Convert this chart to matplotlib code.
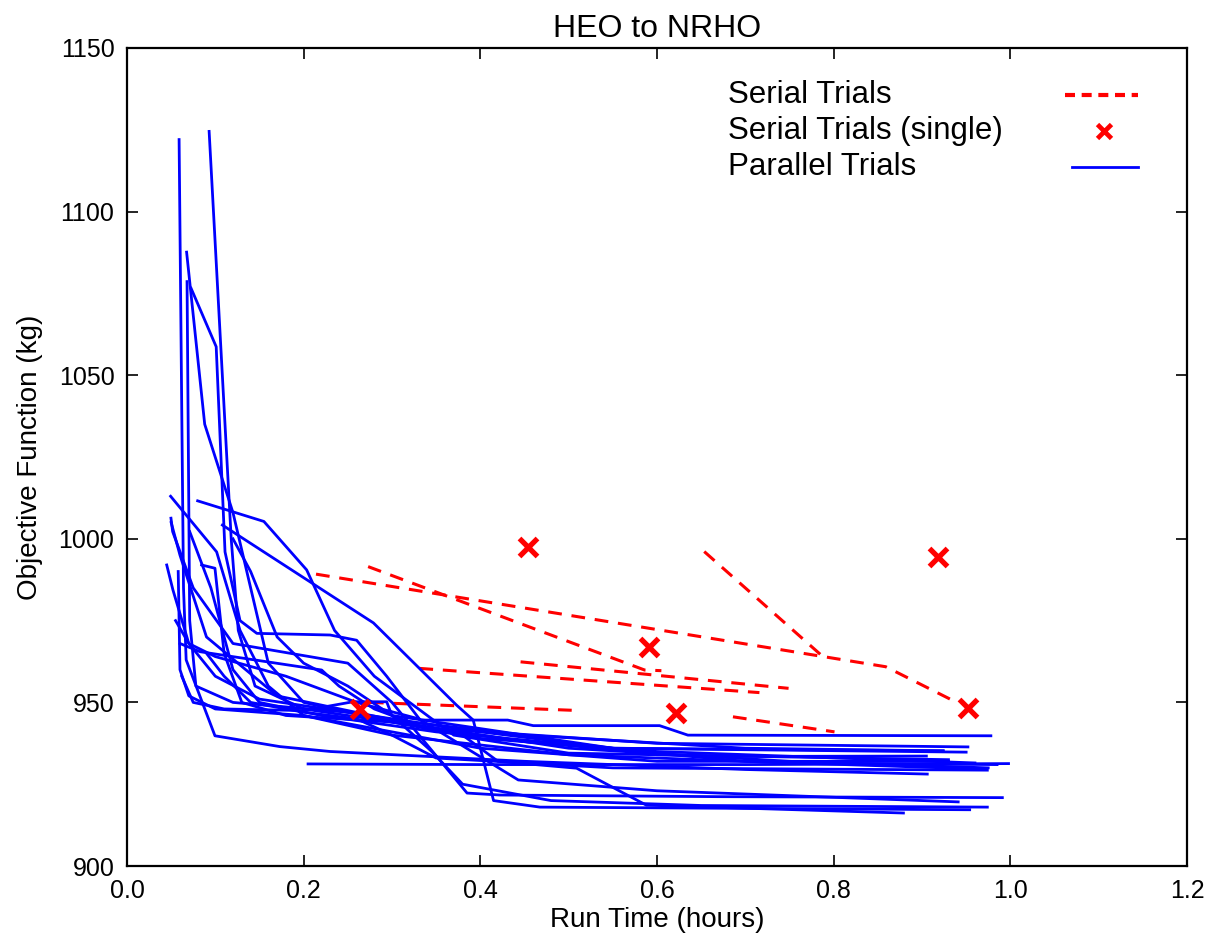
import matplotlib
matplotlib.use("Agg")
import matplotlib.pyplot as plt

plt.rcParams['font.family'] = ['Liberation Sans', 'DejaVu Sans']

title = "HEO to NRHO"
xlabel = "Run Time (hours)"
ylabel = "Objective Function (kg)"
xticks = [0.0, 0.2, 0.4, 0.6, 0.8, 1.0, 1.2]
yticks = [900, 950, 1000, 1050, 1100, 1150]
legend_labels = ["Serial Trials", "Serial Trials (single)", "Parallel Trials"]

# Parallel trials (blue solid)
par_x = [
    [0.059, 0.064, 0.067, 0.0996, 0.173, 0.23, 0.45, 0.7, 0.906],
    [0.093, 0.118, 0.126, 0.145, 0.2, 0.35, 0.6, 0.952],
    [0.0675, 0.088, 0.12, 0.16, 0.2, 0.3, 0.45, 0.7, 0.969],
    [0.068, 0.071, 0.078, 0.12, 0.25, 0.4, 0.55, 0.924],
    [0.0725, 0.101, 0.111, 0.128, 0.147, 0.23, 0.26, 0.294, 0.332, 0.431, 0.46, 0.603, 0.635, 0.978],
    [0.0494, 0.1015, 0.128, 0.16, 0.2, 0.3, 0.5, 0.75, 0.985],
    [0.080, 0.155, 0.2034, 0.235, 0.28, 0.33, 0.37, 0.5, 0.7, 0.905],
    [0.108, 0.279, 0.373, 0.392, 0.415, 0.4675, 0.954],
    [0.0498, 0.0517, 0.075, 0.12, 0.25, 0.3, 0.385, 0.422, 0.52, 0.669, 0.991],
    [0.045, 0.052, 0.07, 0.1, 0.18, 0.26, 0.33, 0.443, 0.6, 0.941],
    [0.058, 0.06, 0.07, 0.1, 0.2, 0.4, 0.6, 0.93],
    [0.071, 0.095, 0.12, 0.15, 0.22, 0.35, 0.55, 0.95],
    [0.0845, 0.0996, 0.11, 0.13, 0.18, 0.3, 0.38, 0.42, 0.509, 0.588, 0.879],
    [0.055, 0.07, 0.1, 0.15, 0.25, 0.4, 0.6, 0.96],
    [0.06, 0.0826, 0.2204, 0.24, 0.28, 0.32, 0.45, 0.7, 0.924],
    [0.205, 0.4, 0.7, 0.998],
    [0.09, 0.11, 0.14, 0.2, 0.26, 0.3, 0.35, 0.55, 0.974],
    [0.12, 0.14, 0.17, 0.2, 0.25, 0.3, 0.345, 0.38, 0.48, 0.65, 0.974],
    [0.062, 0.075, 0.11, 0.2, 0.256, 0.294, 0.3, 0.45, 0.6, 0.93],
    [0.05, 0.06, 0.09, 0.17, 0.33, 0.5, 0.75, 0.975],
]
par_y = [
    [1122, 985, 963, 939.8, 936.5, 935, 932, 929.5, 928.1],
    [1124.5, 1000, 972, 955, 948, 942, 937.5, 936.4],
    [1087.6, 1035, 1008, 962, 950, 944, 938, 932, 929.6],
    [1078.6, 975, 955, 950, 947, 941, 936, 935.2],
    [1076.6, 1058.7, 996, 975, 971.1, 970.6, 969, 958, 944.6, 944.6, 942.9, 942.9, 940, 939.8],
    [1013, 996, 972, 955, 946, 940, 934, 931.5, 931],
    [1011.6, 1005.3, 990.5, 972, 958, 948, 940, 934.5, 933.5, 933.6],
    [1004.2, 974.3, 949.2, 944.6, 920, 918, 917.2],
    [1006.3, 1002.2, 985, 968, 962, 950, 922.3, 921.7, 921.5, 921.2, 920.9],
    [992, 984.4, 968, 964, 958, 950, 945, 926.3, 923, 919.6],
    [990, 960, 952, 948, 946, 936, 932, 932],
    [1002.2, 985, 960, 950, 946, 941, 936, 934.8],
    [992, 991, 965, 950, 946, 944, 940, 932, 929.9, 918.6, 916.2],
    [975, 968, 958, 951, 947, 939, 935, 931.5],
    [968, 965.5, 959.9, 955, 948, 944, 940, 936, 935.2],
    [931.2, 931, 931, 931.3],
    [965, 958, 950, 947, 945, 940, 933, 930, 929.3],
    [1000, 990, 970, 962, 955, 946, 935, 925, 920, 918.5, 918.0],
    [958, 950, 948, 947.5, 950.2, 950.2, 946, 940, 934, 932.5],
    [1005, 995, 970, 952, 943, 936, 932, 930],
]

# Serial trials (red dashed)
ser_x = [
    [0.214, 0.859, 0.9415],
    [0.273, 0.586, 0.605],
    [0.6535, 0.792],
    [0.331, 0.716],
    [0.4456, 0.749],
    [0.275, 0.513],
    [0.686, 0.801],
]
ser_y = [
    [989.2, 960.9, 949.7],
    [991.5, 959.9, 959.7],
    [996.1, 963.0],
    [960.4, 953.0],
    [962.4, 954.3],
    [950.0, 947.5],
    [945.6, 941.0],
]

# Serial trials (single) - red x markers
single_x = [0.264, 0.454, 0.591, 0.621, 0.918, 0.952]
single_y = [948.0, 997.6, 967.0, 946.9, 994.3, 948.2]

BLUE = '#0000ff'
RED = '#ff0000'

fig = plt.figure(figsize=(12.07, 9.44), dpi=100)
ax = fig.add_axes([0.1052, 0.0826, 0.8782, 0.8666])

for xs, ys in zip(ser_x, ser_y):
    ax.plot(xs, ys, color=RED, lw=2.2, dashes=(4.5, 3.2), zorder=2)
ax.plot(single_x, single_y, linestyle='none', marker='x', color=RED,
        markersize=13, mew=3.8, zorder=4)
for xs, ys in zip(par_x, par_y):
    ax.plot(xs, ys, color=BLUE, lw=2.0, zorder=3)

ax.set_xlim(0.0, 1.2)
ax.set_ylim(900, 1150)
ax.set_xticks(xticks)
ax.set_yticks(yticks)
ax.set_xticklabels([f"{t:.1f}" for t in xticks])
ax.set_yticklabels([str(t) for t in yticks])
ax.tick_params(direction='in', top=True, right=True, length=8, width=1.2,
               labelsize=18, pad=9)
for s in ax.spines.values():
    s.set_linewidth(1.6)

ax.set_title(title, fontsize=23, pad=8)
ax.set_xlabel(xlabel, fontsize=20, labelpad=3)
ax.set_ylabel(ylabel, fontsize=20, labelpad=11)

# Legend (text left-aligned, handles on the right)
row_y = [0.943, 0.898, 0.854]
text_x = 0.567
for lbl, yy in zip(legend_labels, row_y):
    ax.text(text_x, yy, lbl, transform=ax.transAxes, fontsize=22.5,
            ha='left', va='center')
ax.plot([0.885, 0.954], [row_y[0], row_y[0]], transform=ax.transAxes,
        color=RED, lw=3, dashes=(2.4, 1.6), clip_on=False)
ax.plot([0.922], [row_y[1]], transform=ax.transAxes, marker='x',
        color=RED, markersize=10, mew=3.4, linestyle='none', clip_on=False)
ax.plot([0.892, 0.954], [row_y[2], row_y[2]], transform=ax.transAxes,
        color=BLUE, lw=2.0, clip_on=False)

fig.savefig('out.png', dpi=100)
